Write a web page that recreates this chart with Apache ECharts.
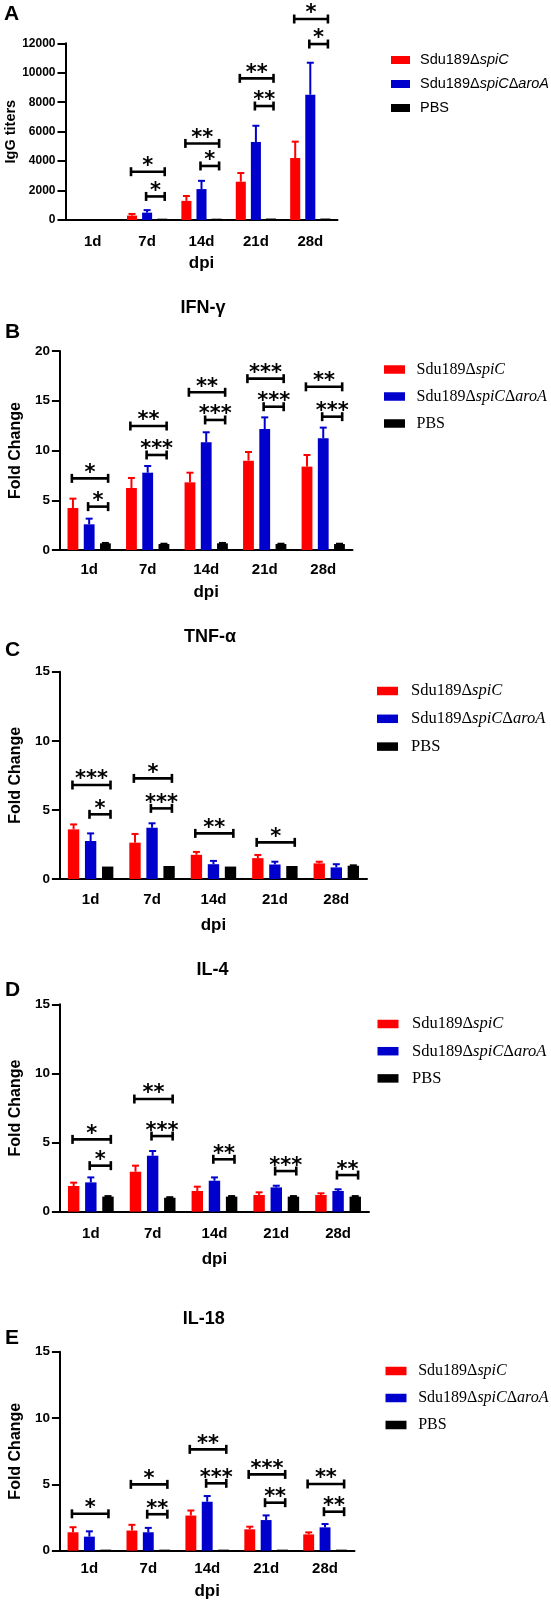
<!DOCTYPE html>
<html><head><meta charset="utf-8">
<script src="https://cdn.jsdelivr.net/npm/echarts@6/dist/echarts.min.js"></script>
<style>html,body{margin:0;padding:0;background:#fff}#c{width:551px;height:1606px}</style>
</head><body><div id="c"></div>
<script>
// ---------- shared ----------
const days = ['1d', '7d', '14d', '21d', '28d'];
const groupNames = ['Sdu189ΔspiC', 'Sdu189ΔspiCΔaroA', 'PBS'];
const groupColors = ['#ff0000', '#0000cc', '#000000'];

// ---------- Panel A : IgG titers ----------
const iggTicks = [0, 2000, 4000, 6000, 8000, 10000, 12000];
const iggSpiC = [0, 300, 1300, 2600, 4210];
const iggSpiCSd = [0, 110, 330, 590, 1110];
const iggAroA = [0, 500, 2100, 5300, 8510];
const iggAroASd = [0, 170, 560, 1100, 2170];
const iggPBS = [0, 90, 90, 100, 100];
const iggPBSSd = [0, 0, 0, 0, 0];
// [day index, left group, right group, bracket level, stars]
const iggBrackets = [[1,0,2,3280,'*'],[1,1,2,1600,'*'],[2,0,2,5200,'**'],[2,1,2,3670,'*'],
  [3,0,2,9620,'**'],[3,1,2,7740,'**'],[4,0,2,13650,'*'],[4,1,2,11950,'*']];

// ---------- Panel B : IFN-γ ----------
const ifnTicks = [0, 5, 10, 15, 20];
const ifnSpiC = [4.22, 6.23, 6.80, 8.98, 8.38];
const ifnSpiCSd = [0.94, 1.01, 0.97, 0.87, 1.17];
const ifnAroA = [2.58, 7.77, 10.82, 12.16, 11.22];
const ifnAroASd = [0.57, 0.67, 1.01, 1.17, 1.08];
const ifnPBS = [0.67, 0.60, 0.67, 0.60, 0.60];
const ifnPBSSd = [0.04, 0.03, 0.04, 0.03, 0.03];
const ifnBrackets = [[0,0,2,7.2,'*'],[0,1,2,4.36,'*'],[1,0,2,12.46,'**'],[1,1,2,9.55,'***'],
  [2,0,2,15.85,'**'],[2,1,2,13.07,'***'],[3,0,2,17.22,'***'],[3,1,2,14.4,'***'],
  [4,0,2,16.4,'**'],[4,1,2,13.4,'***']];

// ---------- Panel C : TNF-α ----------
const tnfTicks = [0, 5, 10, 15];
const tnfSpiC = [3.59, 2.63, 1.75, 1.51, 1.13];
const tnfSpiCSd = [0.36, 0.63, 0.21, 0.23, 0.12];
const tnfAroA = [2.75, 3.71, 1.07, 1.05, 0.84];
const tnfAroASd = [0.55, 0.32, 0.24, 0.20, 0.23];
const tnfPBS = [0.90, 0.94, 0.90, 0.94, 0.96];
const tnfPBSSd = [0, 0, 0, 0, 0.03];
const tnfBrackets = [[0,0,2,6.8,'***'],[0,1,2,4.68,'*'],[1,0,2,7.28,'*'],[1,1,2,5.11,'***'],
  [2,0,2,3.3,'**'],[3,0,2,2.65,'*']];

// ---------- Panel D : IL-4 ----------
const il4Ticks = [0, 5, 10, 15];
const il4SpiC = [1.86, 2.89, 1.50, 1.21, 1.21];
const il4SpiCSd = [0.24, 0.44, 0.31, 0.19, 0.12];
const il4AroA = [2.12, 4.05, 2.24, 1.76, 1.50];
const il4AroASd = [0.36, 0.34, 0.24, 0.12, 0.12];
const il4PBS = [1.09, 1.01, 1.09, 1.09, 1.09];
const il4PBSSd = [0.04, 0.04, 0.04, 0.04, 0.04];
const il4Brackets = [[0,0,2,5.23,'*'],[0,1,2,3.33,'*'],[1,0,2,8.15,'**'],[1,1,2,5.47,'***'],
  [2,1,2,3.79,'**'],[3,1,2,2.94,'***'],[4,1,2,2.65,'**']];

// ---------- Panel E : IL-18 ----------
const il18Ticks = [0, 5, 10, 15];
const il18SpiC = [1.39, 1.52, 2.65, 1.61, 1.23];
const il18SpiCSd = [0.38, 0.43, 0.38, 0.20, 0.15];
const il18AroA = [1.06, 1.39, 3.69, 2.31, 1.76];
const il18AroASd = [0.40, 0.33, 0.43, 0.35, 0.25];
const il18PBS = [0.08, 0.08, 0.08, 0.08, 0.08];
const il18PBSSd = [0, 0, 0, 0, 0];
const il18Brackets = [[0,0,2,2.78,'*'],[1,0,2,5.0,'*'],[1,1,2,2.75,'**'],[2,0,2,7.64,'**'],
  [2,1,2,5.08,'***'],[3,0,2,5.75,'***'],[3,1,2,3.62,'**'],[4,0,2,5.03,'**'],[4,1,2,2.94,'**']];

// ---------- layout / style ----------
const SANS = 'Liberation Sans, Arial, sans-serif';
const SERIF = 'Liberation Serif, Times New Roman, serif';
const BAR_FRAC = 0.185;

const panels = [
  { letter: 'A', title: null, yName: 'IgG titers', ticks: iggTicks,
    means: [iggSpiC, iggAroA, iggPBS], sds: [iggSpiCSd, iggAroASd, iggPBSSd], brackets: iggBrackets,
    grid: { left: 65.5, top: 43.3, width: 272, height: 176.7 }, yLabelSize: 12, yNameSize: 14.5, yNameGap: 44,
    xLabelMargin: 14, xNameGap: 35, letterPos: [4, 14],
    legend: { left: 386, top: 47, font: SANS, size: 14.5, lh: 16, gap: 8, iw: 19, ih: 8, sp: 5 } },
  { letter: 'B', title: 'IFN-γ', titlePos: [203, 308], yName: 'Fold Change', ticks: ifnTicks,
    means: [ifnSpiC, ifnAroA, ifnPBS], sds: [ifnSpiCSd, ifnAroASd, ifnPBSSd], brackets: ifnBrackets,
    grid: { left: 50.5, top: 351, width: 302, height: 199 }, yLabelSize: 13.5, yNameSize: 16, yNameGap: 31,
    xLabelMargin: 12, xNameGap: 34, letterPos: [5, 332.5],
    legend: { left: 379, top: 355.5, font: SERIF, size: 16, lh: 18, gap: 9, iw: 21, ih: 8.5, sp: 6.5 } },
  { letter: 'C', title: 'TNF-α', titlePos: [210, 637.3], yName: 'Fold Change', ticks: tnfTicks,
    means: [tnfSpiC, tnfAroA, tnfPBS], sds: [tnfSpiCSd, tnfAroASd, tnfPBSSd], brackets: tnfBrackets,
    grid: { left: 53, top: 671.7, width: 314, height: 207.3 }, yLabelSize: 13.5, yNameSize: 16, yNameGap: 33,
    xLabelMargin: 13, xNameGap: 38, letterPos: [5, 650],
    legend: { left: 372, top: 677, font: SERIF, size: 16.5, lh: 18, gap: 9.8, iw: 21, ih: 8.5, sp: 8 } },
  { letter: 'D', title: 'IL-4', titlePos: [212.6, 970], yName: 'Fold Change', ticks: il4Ticks,
    means: [il4SpiC, il4AroA, il4PBS], sds: [il4SpiCSd, il4AroASd, il4PBSSd], brackets: il4Brackets,
    grid: { left: 55, top: 1004.3, width: 314, height: 207.4 }, yLabelSize: 13.5, yNameSize: 16, yNameGap: 33,
    xLabelMargin: 15, xNameGap: 39, letterPos: [5, 990.7],
    legend: { left: 372.5, top: 1010, font: SERIF, size: 16.5, lh: 18, gap: 9.2, iw: 21, ih: 8.5, sp: 8.5 } },
  { letter: 'E', title: 'IL-18', titlePos: [203.8, 1319], yName: 'Fold Change', ticks: il18Ticks,
    means: [il18SpiC, il18AroA, il18PBS], sds: [il18SpiCSd, il18AroASd, il18PBSSd], brackets: il18Brackets,
    grid: { left: 53.5, top: 1351.7, width: 301, height: 199 }, yLabelSize: 13.5, yNameSize: 16, yNameGap: 32,
    xLabelMargin: 11, xNameGap: 32, letterPos: [5, 1338.3],
    legend: { left: 380.5, top: 1357, font: SERIF, size: 16, lh: 18, gap: 9, iw: 21, ih: 8.5, sp: 6.7 } }
];

const option = { animation: false, backgroundColor: '#fff', grid: [], xAxis: [], yAxis: [], series: [], legend: [], graphic: [] };

function errRender(params, api) {
  const cat = api.value(0), gi = api.value(1), m = api.value(2), sd = api.value(3);
  if (!(sd > 0)) return null;
  const base = api.coord([cat, m]);
  const top = api.coord([cat, m + sd]);
  const band = api.size([1, 0])[0];
  const w = band * BAR_FRAC;
  const x = base[0] + (gi - 1) * 1.5 * w;
  const col = groupColors[gi];
  return { type: 'group', children: [
    { type: 'line', shape: { x1: x, y1: base[1], x2: x, y2: top[1] }, style: { stroke: col, lineWidth: 2 } },
    { type: 'line', shape: { x1: x - 3.5, y1: top[1], x2: x + 3.5, y2: top[1] }, style: { stroke: col, lineWidth: 2 } }
  ] };
}

function bracketRender(list) {
  return function (params, api) {
    const cat = api.value(0), l = api.value(1), r = api.value(2), lev = api.value(3);
    const p = api.coord([cat, lev]);
    const band = api.size([1, 0])[0];
    const w = band * BAR_FRAC;
    const xl = p[0] + (l - 1) * 1.5 * w - 0.1 * w;
    const xr = p[0] + (r - 1) * 1.5 * w + 0.25 * w;
    const y = p[1];
    const st = { stroke: '#000', lineWidth: 2.6 };
    return { type: 'group', children: [
      { type: 'line', shape: { x1: xl, y1: y, x2: xr, y2: y }, style: st },
      { type: 'line', shape: { x1: xl, y1: y - 4.5, x2: xl, y2: y + 4.5 }, style: st },
      { type: 'line', shape: { x1: xr, y1: y - 4.5, x2: xr, y2: y + 4.5 }, style: st },
      { type: 'text', x: (xl + xr) / 2, y: y - 5,
        style: { text: list[params.dataIndex][4], textAlign: 'center', textVerticalAlign: 'middle',
          font: 'bold 21px "DejaVu Sans"', fill: '#000' } }
    ] };
  };
}

panels.forEach(function (pn, i) {
  option.grid.push(Object.assign({ containLabel: false }, pn.grid));
  option.xAxis.push({
    type: 'category', gridIndex: i, data: days,
    name: 'dpi', nameLocation: 'middle', nameGap: pn.xNameGap,
    nameTextStyle: { fontFamily: SANS, fontWeight: 'bold', fontSize: 17, color: '#000' },
    axisLine: { lineStyle: { color: '#000', width: 2 } },
    axisTick: { alignWithLabel: true, length: 6, lineStyle: { color: '#000', width: 2 } },
    axisLabel: { margin: pn.xLabelMargin, fontFamily: SANS, fontWeight: 'bold', fontSize: 15, color: '#000' }
  });
  const t = pn.ticks;
  option.yAxis.push({
    type: 'value', gridIndex: i, min: t[0], max: t[t.length - 1], interval: t[1] - t[0],
    name: pn.yName, nameLocation: 'middle', nameGap: pn.yNameGap, nameRotate: 90,
    nameTextStyle: { fontFamily: SANS, fontWeight: 'bold', fontSize: pn.yNameSize, color: '#000' },
    splitLine: { show: false },
    axisLine: { show: true, lineStyle: { color: '#000', width: 2 } },
    axisTick: { show: true, length: 8, lineStyle: { color: '#000', width: 2 } },
    axisLabel: { margin: 10, fontFamily: SANS, fontWeight: 'bold', fontSize: pn.yLabelSize, color: '#000',
      formatter: function (v) { return String(v); } }
  });
  // bars
  for (let g = 0; g < 3; g++) {
    option.series.push({
      type: 'bar', name: groupNames[g], xAxisIndex: i, yAxisIndex: i,
      data: pn.means[g], barWidth: (BAR_FRAC * 100) + '%', barGap: '50%',
      itemStyle: { color: groupColors[g] }, z: 2
    });
  }
  // error bars
  const errData = [];
  for (let g = 0; g < 3; g++) for (let d = 0; d < days.length; d++) errData.push([d, g, pn.means[g][d], pn.sds[g][d]]);
  option.series.push({ type: 'custom', xAxisIndex: i, yAxisIndex: i, data: errData,
    encode: { x: 0, y: 2 }, renderItem: errRender, clip: false, silent: true, z: 3 });
  // significance brackets
  option.series.push({ type: 'custom', xAxisIndex: i, yAxisIndex: i,
    data: pn.brackets.map(function (b) { return [b[0], b[1], b[2], b[3]]; }),
    encode: { x: 0, y: 3 }, renderItem: bracketRender(pn.brackets), clip: false, silent: true, z: 4 });
  // legend
  const L = pn.legend;
  const base = { fontFamily: L.font, fontSize: L.size, color: '#000', lineHeight: L.lh };
  option.legend.push({
    orient: 'vertical', left: L.left, top: L.top, itemWidth: L.iw, itemHeight: L.ih, itemGap: L.gap,
    icon: 'rect', selectedMode: false, data: groupNames,
    formatter: function (name) {
      if (name === 'Sdu189ΔspiC') return '{g|}{n|Sdu189Δ}{i|spiC}';
      if (name === 'Sdu189ΔspiCΔaroA') return '{g|}{n|Sdu189Δ}{i|spiC}{n|Δ}{i|aroA}';
      return '{g|}{n|' + name + '}';
    },
    textStyle: Object.assign({}, base, { rich: {
      g: { width: L.sp },
      n: Object.assign({}, base),
      i: Object.assign({ fontStyle: 'italic' }, base)
    } })
  });
  // letters and titles
  option.graphic.push({ type: 'text', left: pn.letterPos[0], top: pn.letterPos[1] - 10.5,
    style: { text: pn.letter, font: 'bold 21px ' + SANS, fill: '#000' } });
  if (pn.title) {
    option.graphic.push({ type: 'text', x: pn.titlePos[0], y: pn.titlePos[1],
      style: { text: pn.title, font: 'bold 18px ' + SANS, fill: '#000', textAlign: 'center', textVerticalAlign: 'middle' } });
  }
});

const chart = echarts.init(document.getElementById('c'), null, { renderer: 'canvas' });
chart.setOption(option);
</script></body></html>
